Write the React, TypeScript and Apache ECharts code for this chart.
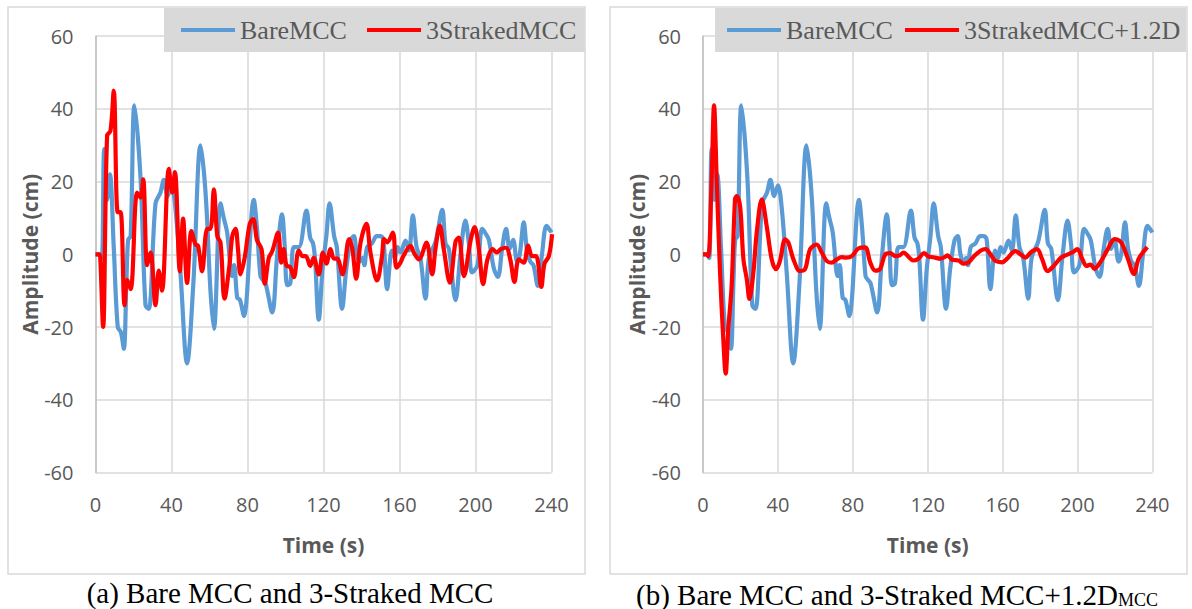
import React, { useEffect, useRef } from "react";
import * as echarts from "echarts";

// Bare MCC (same series in both panels)
const bareTime = [0, 2, 3.3, 4.6, 6.2, 7.6, 9.6, 11.7, 13.4, 14.9, 16.3, 17.2, 18.5, 20.5, 23.7, 26.3, 28, 31.6, 34.2, 36, 38, 40, 42, 44.7, 48.2, 51.5, 55.3, 57, 58.5, 60.5, 62.3, 65.8, 67.5, 69.3, 71.9, 73, 74.6, 76, 78.1, 83.3, 85, 86.8, 88, 89.5, 93, 95.5, 98.2, 99.5, 100.9, 102.5, 104.4, 107, 111, 113, 114.5, 115.5, 117.5, 119.5, 121.5, 123.2, 125.6, 127, 129.8, 132, 134.4, 136, 137.5, 139, 140.5, 141.5, 143, 145.5, 148, 150, 151.5, 153.5, 156, 157.5, 159, 160.5, 163.2, 165, 167, 169, 171, 173.7, 175.5, 179, 182.5, 184.2, 186, 189.5, 192, 194.7, 196.5, 198.2, 201, 203.5, 205, 207, 209.7, 211.8, 214, 216.1, 218, 219.8, 221.9, 223.3, 225.4, 227, 228.8, 230.5, 232.8, 235, 237.4, 239.5, 240];
const bareAmp = [0, 0, -1, 29, 15, 22, 2, -20, -21.5, -26, -7, 4, 5, 41, 21, -14, -15, 14, 17, 20.5, 16, 19, 13, -5, -30, -8, 30, 23, 12, -10, -20.5, 14, 10, 6, -6, -3, -12, -12.5, -17, 15, 7, -6, -7, -8, -16, -1, 11, 3, -8.5, -8, 2, 2, 12, 4.5, 3, -1, -18, -4, 5, 14, 5, 2, -15, -4, 4, 5, 0, -2, -1, -3, 2, 3, 5, 5, 4, -9.6, 1, -1, 2, 0.5, 3.8, 1, 10.7, 2, -1, -12.2, -1, 3.5, 12.2, 3, 1.5, -12.6, -0.5, 9.3, 3, -5, -3, 7, 6, 4, -4, -6.2, 1.5, 7, 1.5, 4, -2, 0, 8.8, 1.5, -2, -3, -8.7, 0, 7.8, 6.4, 6];

// 3-Straked MCC (panel a)
const strakedTime = [0, 2, 2.5, 4, 6.1, 7.9, 9.6, 11.7, 13.2, 15.3, 16.7, 18.5, 21.9, 23.7, 25.1, 27.2, 29, 31.6, 33.3, 35, 38.6, 40.4, 41.8, 44.4, 46.1, 48.2, 50.5, 52.6, 54, 56.1, 58.8, 60.5, 62.3, 64.1, 65.8, 67.9, 70.5, 72, 73.7, 75, 76.3, 78.5, 81.2, 83, 85, 87.4, 89.1, 91.2, 93, 96.1, 97.7, 99, 100.5, 102.5, 104.4, 107, 109, 110.7, 113, 114.8, 117.5, 119.7, 121.5, 123.7, 125.5, 127.2, 130, 133.5, 135.2, 137.2, 139.5, 142.6, 144.7, 148.2, 150.8, 151.9, 153.6, 156.5, 158.4, 160.5, 162, 165.8, 167.5, 170.2, 174.2, 177.2, 178.9, 181.2, 183.3, 186.5, 189.5, 191.2, 193.9, 197.5, 199.5, 201.8, 204, 206.3, 209, 211.2, 213.3, 216, 218.3, 220.5, 222.8, 225.4, 227.7, 229.8, 231.9, 234.6, 236.3, 238.6, 240.3];
const strakedAmp = [0, 0, -1, -20, 32.6, 34, 45, 11.6, 11.6, -14, -7, -9.6, 17, 15.6, 20.6, -3, 0.5, -14, -4.5, -10, 23.5, 17, 22.6, -4.7, 9.8, -7.9, 6.4, 2.7, 2.3, -4.7, 7, 7, 17.9, 5, 3.2, -12.2, -3, 5, 7, 1.4, -5.5, -1, 8.4, 9.7, 3.9, 1.4, -8.1, -1, 0.8, 6, -2.3, 1.4, -3.1, -3.5, -6.3, 1, -0.5, -0.5, -3.2, -1, -5.5, 0.5, -2.6, 1.4, -1.2, -1.2, -5.5, 4.2, 1.4, -6.7, 3.2, 8.4, 0.5, -7.2, -0.5, 4.2, 3.3, 6, -3.7, -2.3, -0.5, 2.3, 0.5, -1.4, 3.2, -5.5, 1.4, 7.9, 1.4, -7.8, 3.5, 4.6, -6, 4, 7.5, 1.4, -8.2, -1.4, 1.4, 0.5, 1.4, 1.8, -1.4, -7.6, -1.4, -2.3, 2.4, -0.5, -0.5, -9, -2.6, -0.5, 5.5];

// 3-Straked MCC + 1.2D (panel b)
const straked12Time = [0, 1.9, 2.8, 4.6, 5.9, 7.3, 9.1, 10.8, 12.1, 13.5, 15.3, 17.1, 18, 19.8, 21.6, 23.4, 24.8, 26.9, 28.7, 31.4, 34, 36.7, 39, 41, 43.9, 45.6, 48.3, 51.8, 54.5, 57.2, 60.7, 63.4, 66, 68.7, 71.4, 74, 76.5, 79.5, 83, 86.6, 89.3, 92, 94.6, 97.4, 100, 102.7, 105, 107.1, 109.8, 112.3, 115, 118, 120.4, 123, 126.8, 129.3, 130.6, 133, 136.5, 139.2, 141.9, 144.6, 148.2, 150.9, 153.5, 156.1, 159.7, 162.4, 166.8, 169.5, 172.2, 175, 178.4, 181, 184.1, 187.3, 191, 193.6, 197.2, 199.9, 202.5, 204.8, 207, 209, 212.4, 216.2, 219.8, 223.3, 226.9, 230.1, 232.7, 237.3];
const straked12Amp = [0, 0, -0.5, 20.7, 41, 20.7, -5, -23, -32.8, -20.5, -8.7, 15.1, 16, 13.3, -1.4, -6.9, -12.3, -5, 6, 15.1, 7.8, -1.4, -4.1, -2, 4.1, 3.2, -1.4, -4.6, -4.1, 1.4, 2.7, 0.5, -1.8, -2.3, -1.4, -0.8, -0.9, -0.5, 1.6, 1.9, -2.2, -4.5, -4, 0, 0.3, -0.5, -0.3, 0.5, -0.7, -1.7, -1.2, 0.3, -0.6, -0.8, -1.2, -0.7, -0.3, -1.5, -1.7, -2.6, -2.2, -0.6, 1, 1.4, 0, -1.8, -2.2, -1.2, 0.9, 0, -0.9, 0.5, 1.4, -1.2, -4.6, -3.2, -1, -0.3, 0.5, 1.4, -1.2, -3.2, -2.8, -4, -2, 1.4, 4.2, 3.3, -1.2, -5.4, -1.2, 2];

const seriesNames = ["BareMCC", "3StrakedMCC", "3StrakedMCC+1.2D"];
const captions = ["(a) Bare MCC and 3-Straked MCC", "(b) Bare MCC and 3-Straked MCC+1.2D", "MCC"];
const xTitle = "Time (s)";
const yTitle = "Amplitude (cm)";

const zip = (t: number[], v: number[]) => t.map((x, i) => [x, v[i]]);

const BLUE = "#5b9bd5";
const RED = "#ff0000";
const GREY_TXT = "#595959";
const GRID = "#d9d9d9";
const SANS = "'Open Sans', 'Noto Sans', sans-serif";
const SERIF = "'Liberation Serif', 'Times New Roman', serif";

export default function App() {
  const ref = useRef<HTMLDivElement>(null);
  useEffect(() => {
    const chart = echarts.init(ref.current!, null, { renderer: "svg" });
    const grids = [
      { left: 95.5, top: 36.2, width: 456, height: 436.2 },
      { left: 703, top: 36.2, width: 449.4, height: 436.2 },
    ];
    const mkX = (gi: number) => ({
      type: "value",
      gridIndex: gi,
      min: 0,
      max: 240,
      interval: 40,
      name: xTitle,
      nameLocation: "middle",
      nameGap: 62,
      nameTextStyle: { fontFamily: SANS, fontSize: 21, fontWeight: "bold", color: GREY_TXT },
      axisLine: { show: false, onZero: false },
      axisTick: { show: false },
      axisLabel: { fontFamily: SANS, fontSize: 20, color: GREY_TXT, margin: 22 },
      splitLine: { show: true, lineStyle: { color: GRID, width: 1.5 } },
    });
    const mkY = (gi: number) => ({
      type: "value",
      gridIndex: gi,
      min: -60,
      max: 60,
      interval: 20,
      name: yTitle,
      nameLocation: "middle",
      nameGap: 48,
      nameTextStyle: { fontFamily: SANS, fontSize: 21, fontWeight: "bold", color: GREY_TXT },
      axisLine: { show: true, onZero: false, lineStyle: { color: "#bfbfbf", width: 1.5 } },
      axisTick: { show: false },
      axisLabel: { fontFamily: SANS, fontSize: 20, color: GREY_TXT, margin: 22 },
      splitLine: { show: true, lineStyle: { color: GRID, width: 1.5 } },
    });
    const mkSeries = (name: string, data: number[][], color: string, gi: number) => ({
      type: "line",
      name,
      data,
      xAxisIndex: gi,
      yAxisIndex: gi,
      smooth: 0.35,
      showSymbol: false,
      symbol: "none",
      lineStyle: { color, width: 4.2 },
      itemStyle: { color },
      z: color === RED ? 3 : 2,
    });
    const mkLegend = (name: string, left: number) => ({
      data: [name],
      left,
      top: 15,
      padding: 0,
      icon: "rect",
      itemWidth: 54,
      itemHeight: 4,
      itemGap: 0,
      itemTextGap: 5,
      selectedMode: false,
      textStyle: { fontFamily: SERIF, fontSize: 26, color: GREY_TXT, lineHeight: 30 },
    });
    chart.setOption({
      animation: false,
      backgroundColor: "#ffffff",
      grid: grids,
      xAxis: [mkX(0), mkX(1)],
      yAxis: [mkY(0), mkY(1)],
      legend: [
        mkLegend(seriesNames[0], 181),
        mkLegend(seriesNames[1], 367),
        mkLegend(seriesNames[0], 727),
        mkLegend(seriesNames[2], 905),
      ],
      series: [
        mkSeries(seriesNames[0], zip(bareTime, bareAmp), BLUE, 0),
        mkSeries(seriesNames[1], zip(strakedTime, strakedAmp), RED, 0),
        mkSeries(seriesNames[0], zip(bareTime, bareAmp), BLUE, 1),
        mkSeries(seriesNames[2], zip(straked12Time, straked12Amp), RED, 1),
      ],
      graphic: [
        { type: "rect", shape: { x: 8, y: 7, width: 577, height: 567 }, style: { fill: "none", stroke: GRID, lineWidth: 1.5 }, z: -10 },
        { type: "rect", shape: { x: 610, y: 7, width: 577, height: 567 }, style: { fill: "none", stroke: GRID, lineWidth: 1.5 }, z: -10 },
        { type: "rect", shape: { x: 164, y: 8, width: 421, height: 44 }, style: { fill: GRID }, z: -5 },
        { type: "rect", shape: { x: 715, y: 8, width: 471, height: 44 }, style: { fill: GRID }, z: -5 },
        {
          type: "text",
          x: 290,
          y: 593,
          style: { text: captions[0], font: `29px ${SERIF}`, fill: "#000", align: "center", verticalAlign: "middle" },
        },
        {
          type: "text",
          x: 897,
          y: 593,
          style: {
            text: `{n|${captions[1]}}{s|${captions[2]}}`,
            align: "center",
            verticalAlign: "middle",
            rich: {
              n: { fontFamily: SERIF, fontSize: 29, fill: "#000", lineHeight: 32, verticalAlign: "bottom" },
              s: { fontFamily: SERIF, fontSize: 18, fill: "#000", lineHeight: 32, verticalAlign: "bottom", padding: [8, 0, 0, 0] },
            },
          },
        },
      ],
    });
    return () => chart.dispose();
  }, []);
  return <div ref={ref} style={{ position: "fixed", left: 0, top: 0, width: 1192, height: 609 }} />;
}
